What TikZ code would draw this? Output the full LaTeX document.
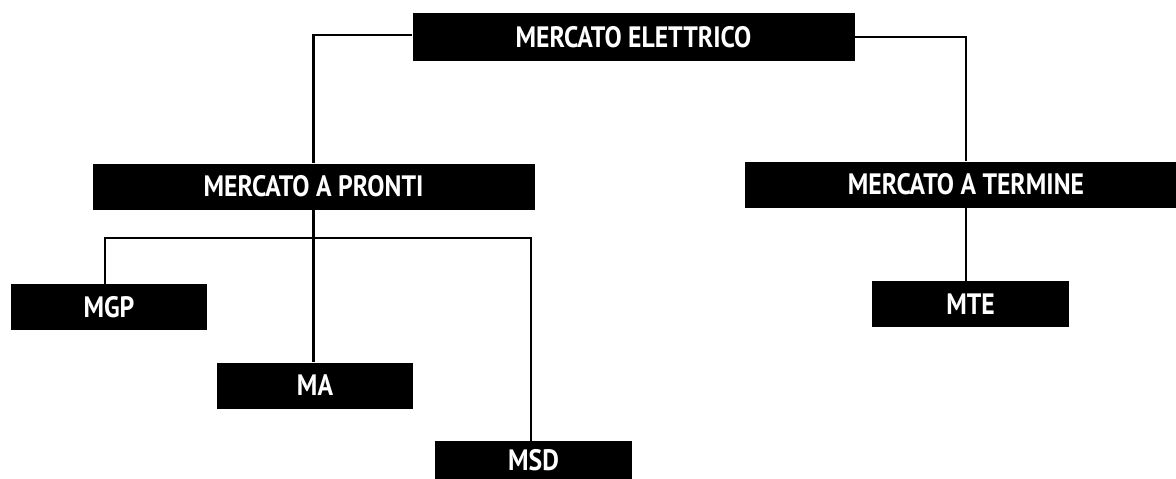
\documentclass[tikz,border=0pt]{standalone}
\usepackage{fontspec}
\setmainfont{PT Sans}[FakeStretch=0.87]
\begin{document}
\begin{tikzpicture}[x=1pt,y=-1pt,
  lab/.style={fill=black,text=white,font=\bfseries\fontsize{29.5}{30}\selectfont,inner sep=0pt,minimum height=46pt},
  wide/.style={lab,minimum width=442pt},
  small/.style={lab,minimum width=196pt},
  conn/.style={draw=black,line width=2.3pt}]
\useasboundingbox (0,0) rectangle (1176,479);
\node[wide,minimum height=48pt] (me) at (633.5,37) {MERCATO ELETTRICO};
\node[wide] (mp) at (313.5,186.5) {MERCATO A PRONTI};
\node[wide] (mt) at (966,184.5) {MERCATO A TERMINE};
\node[small] (mgp) at (109,307) {MGP};
\node[small] (ma) at (315,385.5) {MA};
\node[small,minimum width=197pt,minimum height=38pt] (msd) at (533.5,460) {MSD};
\node[small,minimum width=197pt] (mte) at (970.5,304) {MTE};
\coordinate (bar) at (313,238);
\draw[conn] ([yshift=2pt]me.west) -| (mp.north);
\draw[conn] (me.east) -| (mt.north);
\draw[conn] (mp.south) -- (mp.south |- ma.north);
\draw[conn] ([xshift=-4pt]mgp.north) |- (bar) -| ([xshift=-2.5pt]msd.north);
\draw[conn] (mt.south) -- (mt.south |- mte.north);
\end{tikzpicture}
\end{document}
